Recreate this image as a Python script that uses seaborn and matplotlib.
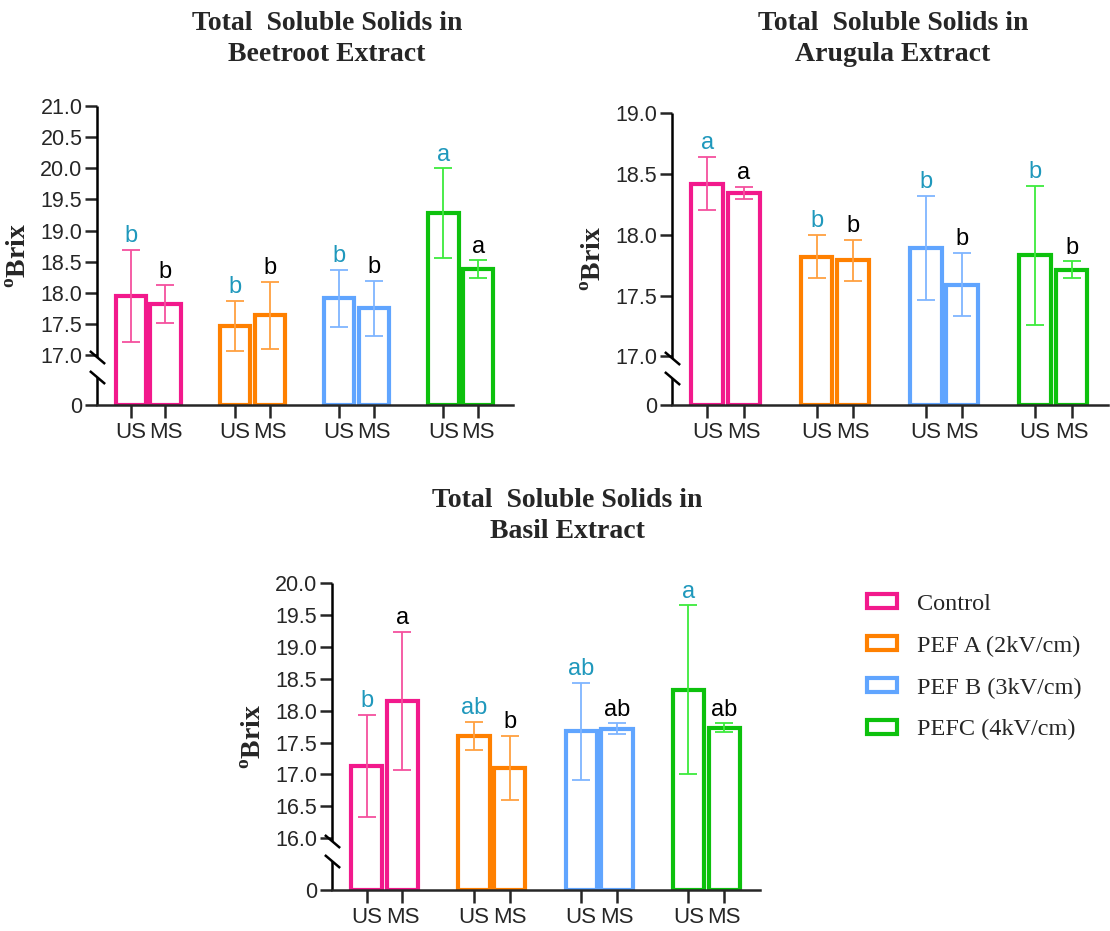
import numpy as np
import pandas as pd
import matplotlib
matplotlib.use("Agg")
import matplotlib.pyplot as plt
from matplotlib.patches import Patch
import seaborn as sns

sns.set_style("ticks")
plt.rcParams["font.family"] = ["Liberation Sans", "DejaVu Sans"]
plt.rcParams.update({
    "mathtext.fontset": "custom",
    "mathtext.rm": "Liberation Serif",
    "mathtext.bf": "Liberation Serif:bold",
    "axes.linewidth": 1.8,
    "xtick.major.width": 1.8,
    "ytick.major.width": 1.8,
})

# ---- data ----
treatments = ["Control", "PEF A (2kV/cm)", "PEF B (3kV/cm)", "PEFC (4kV/cm)"]
methods = ["US", "MS"]

beet_mean = [17.95, 17.82, 17.47, 17.64, 17.91, 17.75, 19.28, 18.38]
beet_sd = [0.74, 0.30, 0.40, 0.54, 0.46, 0.44, 0.72, 0.14]
beet_letters = ["b", "b", "b", "b", "b", "b", "a", "a"]

aru_mean = [18.42, 18.34, 17.82, 17.79, 17.89, 17.59, 17.83, 17.71]
aru_sd = [0.22, 0.05, 0.18, 0.17, 0.43, 0.26, 0.57, 0.07]
aru_letters = ["a", "a", "b", "b", "b", "b", "b", "b"]

basil_mean = [17.13, 18.15, 17.61, 17.10, 17.68, 17.72, 18.33, 17.73]
basil_sd = [0.80, 1.08, 0.22, 0.50, 0.76, 0.08, 1.32, 0.07]
basil_letters = ["b", "a", "ab", "b", "ab", "ab", "a", "ab"]

colors = {"Control": "#F2198C", "PEF A (2kV/cm)": "#FF8000",
          "PEF B (3kV/cm)": "#60A5FF", "PEFC (4kV/cm)": "#0DC10D"}
err_colors = {"Control": "#F5509E", "PEF A (2kV/cm)": "#FFA040",
              "PEF B (3kV/cm)": "#7FB5FF", "PEFC (4kV/cm)": "#3DEB3D"}
letter_colors = {"US": "#1F98BC", "MS": "black"}


def make_df(mean, sd, letters):
    rows = []
    k = 0
    for i, t in enumerate(treatments):
        for j, m in enumerate(methods):
            rows.append({"treatment": t, "method": m, "pos": i * 3 + j,
                         "brix": mean[k], "sd": sd[k], "letter": letters[k]})
            k += 1
    return pd.DataFrame(rows)


def break_scale(lo, g):
    # linear above `lo`, 0..lo squeezed into `g` units (broken axis)
    def fwd(v):
        v = np.asarray(v, float)
        return np.where(v >= lo, v - lo + g, v * g / lo)

    def inv(u):
        u = np.asarray(u, float)
        return np.where(u >= g, u - g + lo, u * lo / g)
    return fwd, inv


def draw_panel(ax, df, lo, top, gap, title_xy, title):
    sns.barplot(data=df, x="pos", y="brix", hue="treatment", hue_order=treatments,
                palette=colors, native_scale=True, dodge=False, width=0.87,
                fill=False, linewidth=3.0, saturation=1, errorbar=None,
                legend=False, ax=ax, zorder=2)
    for t in treatments:
        sub = df[df["treatment"] == t]
        ax.errorbar(sub["pos"], sub["brix"], yerr=sub["sd"], fmt="none",
                    ecolor=err_colors[t], elinewidth=1.3, capsize=6.5,
                    capthick=1.3, zorder=3)
    for _, r in df.iterrows():
        ax.annotate(r["letter"], (r["pos"], r["brix"] + r["sd"]),
                    xytext=(0, 2), textcoords="offset points", ha="center",
                    va="bottom", fontsize=17, color=letter_colors[r["method"]])

    ax.set_yscale("function", functions=break_scale(lo, gap))
    ax.set_ylim(0, top)
    ticks = [0] + list(np.arange(lo, top + 0.01, 0.5))
    ax.set_yticks(ticks, ["0"] + [f"{v:.1f}" for v in ticks[1:]])
    ax.set_yticks([], minor=True)
    ax.set_xlim(-0.97, 11.0)
    ax.set_xticks(df["pos"], df["method"])
    ax.tick_params(axis="y", length=8.5, labelsize=15.5, pad=2)
    ax.tick_params(axis="x", length=9, labelsize=16, pad=3)
    ax.set_xlabel("")
    ax.set_ylabel(r"$^{\mathbf{o}}$Brix", family="Liberation Serif",
                  fontweight="bold", fontsize=20, labelpad=6)

    # broken y axis line with slashes
    sns.despine(ax=ax, left=True)
    for y0, y1 in [(0.16, 1.0), (0.0, 0.093)]:
        ax.plot([0, 0], [y0, y1], transform=ax.transAxes, color="black",
                lw=1.8, clip_on=False, solid_capstyle="butt")
    ax.plot([0, 0], [0.16, 0.093], transform=ax.transAxes, ls="none",
            marker=[(-1, 0.85), (1, -0.85)], markersize=11, mew=1.8,
            mec="black", clip_on=False)

    ax.figure.text(title_xy[0], title_xy[1], title, ha="center", va="top",
                   family="Liberation Serif", fontweight="bold", fontsize=20,
                   linespacing=1.3)


fig = plt.figure(figsize=(11.1, 9.31), dpi=100)
W, H = 1110, 931
ax1 = fig.add_axes([97 / W, 1 - 405 / H, 416 / W, 299 / H])
ax2 = fig.add_axes([672 / W, 1 - 405 / H, 436 / W, 292 / H])
ax3 = fig.add_axes([332 / W, 1 - 890 / H, 428 / W, 307 / H])

draw_panel(ax1, make_df(beet_mean, beet_sd, beet_letters), 17.0, 21.0, 0.80,
           (327 / W, 1 - 11 / H), "Total  Soluble Solids in\nBeetroot Extract")
draw_panel(ax2, make_df(aru_mean, aru_sd, aru_letters), 17.0, 19.0, 0.40,
           (893 / W, 1 - 11 / H), "Total  Soluble Solids in\nArugula Extract")
draw_panel(ax3, make_df(basil_mean, basil_sd, basil_letters), 16.0, 20.0, 0.81,
           (567 / W, 1 - 488 / H), "Total  Soluble Solids in\nBasil Extract")

handles = [Patch(facecolor="white", edgecolor=colors[t], linewidth=3, label=t)
           for t in treatments]
fig.legend(handles=handles, loc="upper left", bbox_to_anchor=(867 / W, 1 - 594 / H),
           frameon=False, prop={"family": "Liberation Serif", "size": 17.5},
           handlelength=1.25, handleheight=0.5, handletextpad=0.8,
           labelspacing=0.85, borderpad=0, borderaxespad=0)

fig.savefig("out.png", dpi=100, facecolor="white")
